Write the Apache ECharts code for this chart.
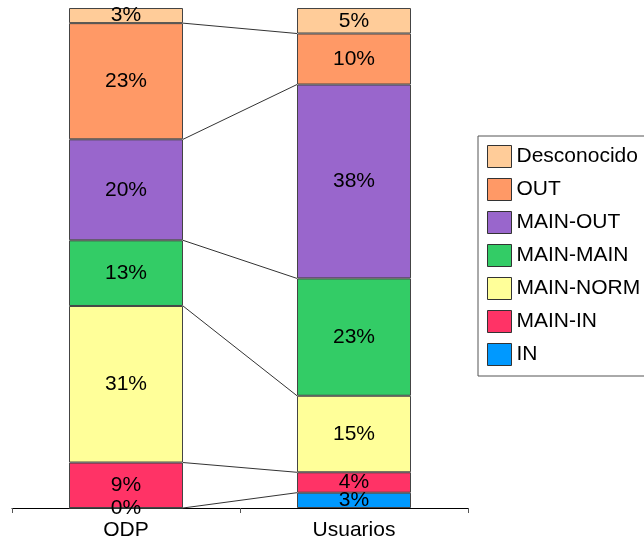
<!DOCTYPE html>
<html>
<head>
<meta charset="utf-8">
<script src="https://cdn.jsdelivr.net/npm/echarts@6/dist/echarts.min.js"></script>
<style>
  html, body { margin: 0; padding: 0; background: #fff; }
  #chart { width: 644px; height: 541px; }
</style>
</head>
<body>
<div id="chart"></div>
<script>
// Categories (one stacked bar each)
const categories = ['ODP', 'Usuarios'];

// Stack segments, bottom to top
const segmentNames = ['IN', 'MAIN-IN', 'MAIN-NORM', 'MAIN-MAIN', 'MAIN-OUT', 'OUT', 'Desconocido'];

// Percentages per segment, same order as segmentNames
const odpPercent = [0, 9, 31, 13, 20, 23, 3];
const usuariosPercent = [3, 4, 15, 23, 38, 10, 5];

const segmentColors = ['#0099ff', '#ff3366', '#ffff99', '#33cc66', '#9966cc', '#ff9966', '#ffcc99'];

const FONT = 'Liberation Sans';
const FONT_SIZE = 21;
const percentRows = [odpPercent, usuariosPercent];

// Each bar is scaled so its segments fill the full height (100 %)
const shares = percentRows.map(row => {
  const total = row.reduce((a, b) => a + b, 0);
  return row.map(v => v / total * 100);
});

// Cumulative boundaries between segments, for the connector lines
function cumulative(row) {
  const out = [];
  let s = 0;
  row.forEach(v => { s += v; out.push(s); });
  return out;
}
const cumA = cumulative(shares[0]);
const cumB = cumulative(shares[1]);
const connectorData = [];
for (let k = 0; k < segmentNames.length - 1; k++) {
  connectorData.push([0, cumA[k], cumB[k]]);
}

const barSeries = segmentNames.map((name, i) => ({
  name: name,
  type: 'bar',
  stack: 'total',
  barWidth: '50%',
  data: [shares[0][i], shares[1][i]],
  itemStyle: { color: segmentColors[i], borderColor: '#444', borderWidth: 1 },
  label: {
    show: true,
    position: 'inside',
    color: '#000',
    fontFamily: FONT,
    fontSize: FONT_SIZE,
    formatter: p => percentRows[p.dataIndex][i] + '%'
  },
  emphasis: { disabled: true },
  silent: true
}));

// Thin lines joining matching segment boundaries of the two bars
const connectorSeries = {
  type: 'custom',
  name: 'connectors',
  silent: true,
  encode: { x: 0, y: [1, 2] },
  data: connectorData,
  z: 1,
  renderItem: function (params, api) {
    const band = api.size([1, 0])[0];
    const half = band * 0.5 / 2;
    const p1 = api.coord([0, api.value(1)]);
    const p2 = api.coord([1, api.value(2)]);
    return {
      type: 'line',
      shape: { x1: p1[0] + half, y1: p1[1], x2: p2[0] - half, y2: p2[1] },
      style: { stroke: '#333', lineWidth: 1 }
    };
  }
};

const chart = echarts.init(document.getElementById('chart'), null, { renderer: 'canvas' });
chart.setOption({
  animation: false,
  backgroundColor: '#fff',
  grid: { left: 12, right: 176, top: 8, bottom: 33, containLabel: false },
  xAxis: {
    type: 'category',
    data: categories,
    axisLine: { lineStyle: { color: '#000', width: 1 } },
    axisTick: { show: true, length: 5, lineStyle: { color: '#555' } },
    axisLabel: { color: '#000', fontFamily: FONT, fontSize: FONT_SIZE, margin: 12 }
  },
  yAxis: {
    type: 'value',
    min: 0,
    max: 100,
    show: false,
    splitLine: { show: false }
  },
  legend: {
    orient: 'vertical',
    left: 478,
    top: 136,
    padding: [9, 10, 10, 9],
    itemWidth: 24,
    itemHeight: 22,
    itemGap: 10,
    icon: 'rect',
    borderColor: '#555',
    borderWidth: 1,
    selectedMode: false,
    data: segmentNames.slice().reverse(),
    textStyle: { color: '#000', fontFamily: FONT, fontSize: FONT_SIZE },
    itemStyle: { borderColor: '#333', borderWidth: 1 }
  },
  series: [connectorSeries].concat(barSeries)
});
</script>
</body>
</html>
